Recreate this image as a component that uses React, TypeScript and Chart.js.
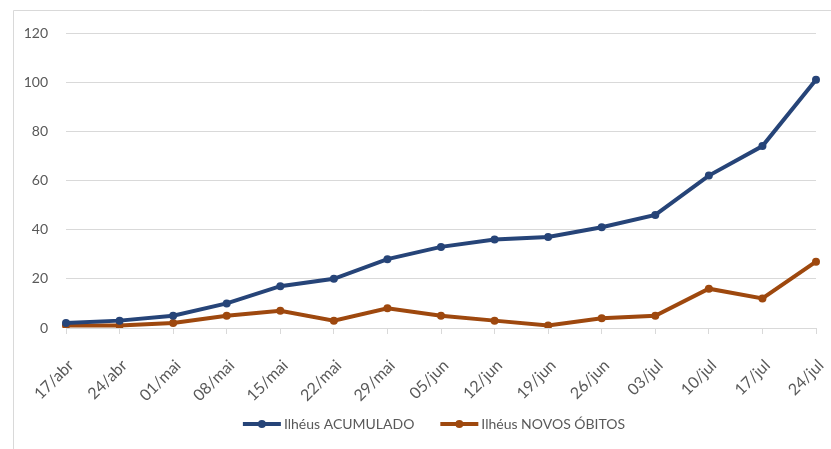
import React, { useEffect, useRef } from "react";
import { Chart, registerables } from "chart.js";

Chart.register(...registerables);

const categories = ["17/abr", "24/abr", "01/mai", "08/mai", "15/mai", "22/mai", "29/mai", "05/jun", "12/jun", "19/jun", "26/jun", "03/jul", "10/jul", "17/jul", "24/jul"];
const acumulado = [2, 3, 5, 10, 17, 20, 28, 33, 36, 37, 41, 46, 62, 74, 101];
const novosObitos = [1, 1, 2, 5, 7, 3, 8, 5, 3, 1, 4, 5, 16, 12, 27];
const seriesNames = ["Ilhéus ACUMULADO", "Ilhéus NOVOS ÓBITOS"];
const yTicks = [0, 20, 40, 60, 80, 100, 120];

const BLUE = "#264478";
const ORANGE = "#9E480E";
const TEXT = "#595959";
const GRID = "#d9d9d9";
const FONT = "Lato, 'Open Sans', sans-serif";

const framePlugin = {
  id: "frame",
  beforeDraw(chart: any) {
    const ctx = chart.ctx;
    ctx.save();
    ctx.fillStyle = "#ffffff";
    ctx.fillRect(0, 0, chart.width, chart.height);
    ctx.strokeStyle = GRID;
    ctx.lineWidth = 1;
    ctx.beginPath();
    ctx.moveTo(13.5, chart.height);
    ctx.lineTo(13.5, 10.5);
    ctx.lineTo(chart.width, 10.5);
    ctx.stroke();
    ctx.restore();
  },
};

const legendPlugin = {
  id: "customLegend",
  afterDraw(chart: any) {
    const ctx = chart.ctx;
    ctx.save();
    ctx.font = `14px ${FONT}`;
    const lineLen = 38;
    const gap = 3;
    const itemGap = 26;
    const items = chart.data.datasets.map((ds: any) => ({
      label: ds.label,
      color: ds.borderColor,
      w: lineLen + gap + ctx.measureText(ds.label).width,
    }));
    const total = items.reduce((s: number, it: any) => s + it.w, 0) + itemGap * (items.length - 1);
    let x = 434 - total / 2;
    const y = 424;
    for (const it of items) {
      ctx.strokeStyle = it.color;
      ctx.lineWidth = 4;
      ctx.beginPath();
      ctx.moveTo(x, y);
      ctx.lineTo(x + lineLen, y);
      ctx.stroke();
      ctx.fillStyle = it.color;
      ctx.beginPath();
      ctx.arc(x + lineLen / 2, y, 4, 0, Math.PI * 2);
      ctx.fill();
      ctx.fillStyle = TEXT;
      ctx.textBaseline = "middle";
      ctx.textAlign = "left";
      ctx.fillText(it.label, x + lineLen + gap, y);
      x += it.w + itemGap;
    }
    ctx.restore();
  },
};

export default function App() {
  const ref = useRef<HTMLCanvasElement | null>(null);

  useEffect(() => {
    if (!ref.current) return;
    const chart = new Chart(ref.current, {
      type: "line",
      data: {
        labels: categories,
        datasets: [
          {
            label: seriesNames[0],
            data: acumulado,
            borderColor: BLUE,
            backgroundColor: BLUE,
            borderWidth: 4,
            pointRadius: 4,
            pointBackgroundColor: BLUE,
            pointBorderWidth: 0,
            tension: 0,
          },
          {
            label: seriesNames[1],
            data: novosObitos,
            borderColor: ORANGE,
            backgroundColor: ORANGE,
            borderWidth: 4,
            pointRadius: 4,
            pointBackgroundColor: ORANGE,
            pointBorderWidth: 0,
            tension: 0,
          },
        ],
      },
      options: {
        responsive: false,
        animation: false,
        layout: { padding: { top: 33, left: 0, right: 15, bottom: 0 } },
        plugins: {
          legend: { display: false },
          tooltip: { enabled: false },
        },
        scales: {
          x: {
            offset: false,
            grid: {
              display: true,
              drawOnChartArea: false,
              drawTicks: true,
              tickLength: 6,
              color: GRID,
            },
            border: { display: true, color: GRID },
            ticks: {
              color: TEXT,
              font: { family: FONT, size: 16 },
              minRotation: 45,
              maxRotation: 45,
              autoSkip: false,
              padding: 22,
              labelOffset: 5,
            },
            afterFit(scale: any) {
              scale.height = 121;
              scale.paddingLeft = 0;
              scale.paddingRight = 0;
            },
          },
          y: {
            min: 0,
            max: 120,
            afterBuildTicks(scale: any) {
              scale.ticks = yTicks.map((v) => ({ value: v }));
            },
            grid: { color: GRID, drawTicks: false },
            border: { display: false },
            ticks: {
              color: TEXT,
              font: { family: FONT, size: 14 },
              padding: 18,
            },
            afterFit(scale: any) {
              scale.width = 66;
              scale.paddingTop = 0;
              scale.paddingBottom = 0;
            },
          },
        },
      },
      plugins: [framePlugin, legendPlugin],
    });
    return () => chart.destroy();
  }, []);

  return (
    <div style={{ position: "fixed", left: 0, top: 0, width: 831, height: 449 }}>
      <canvas ref={ref} width={831} height={449} style={{ display: "block" }} />
    </div>
  );
}
